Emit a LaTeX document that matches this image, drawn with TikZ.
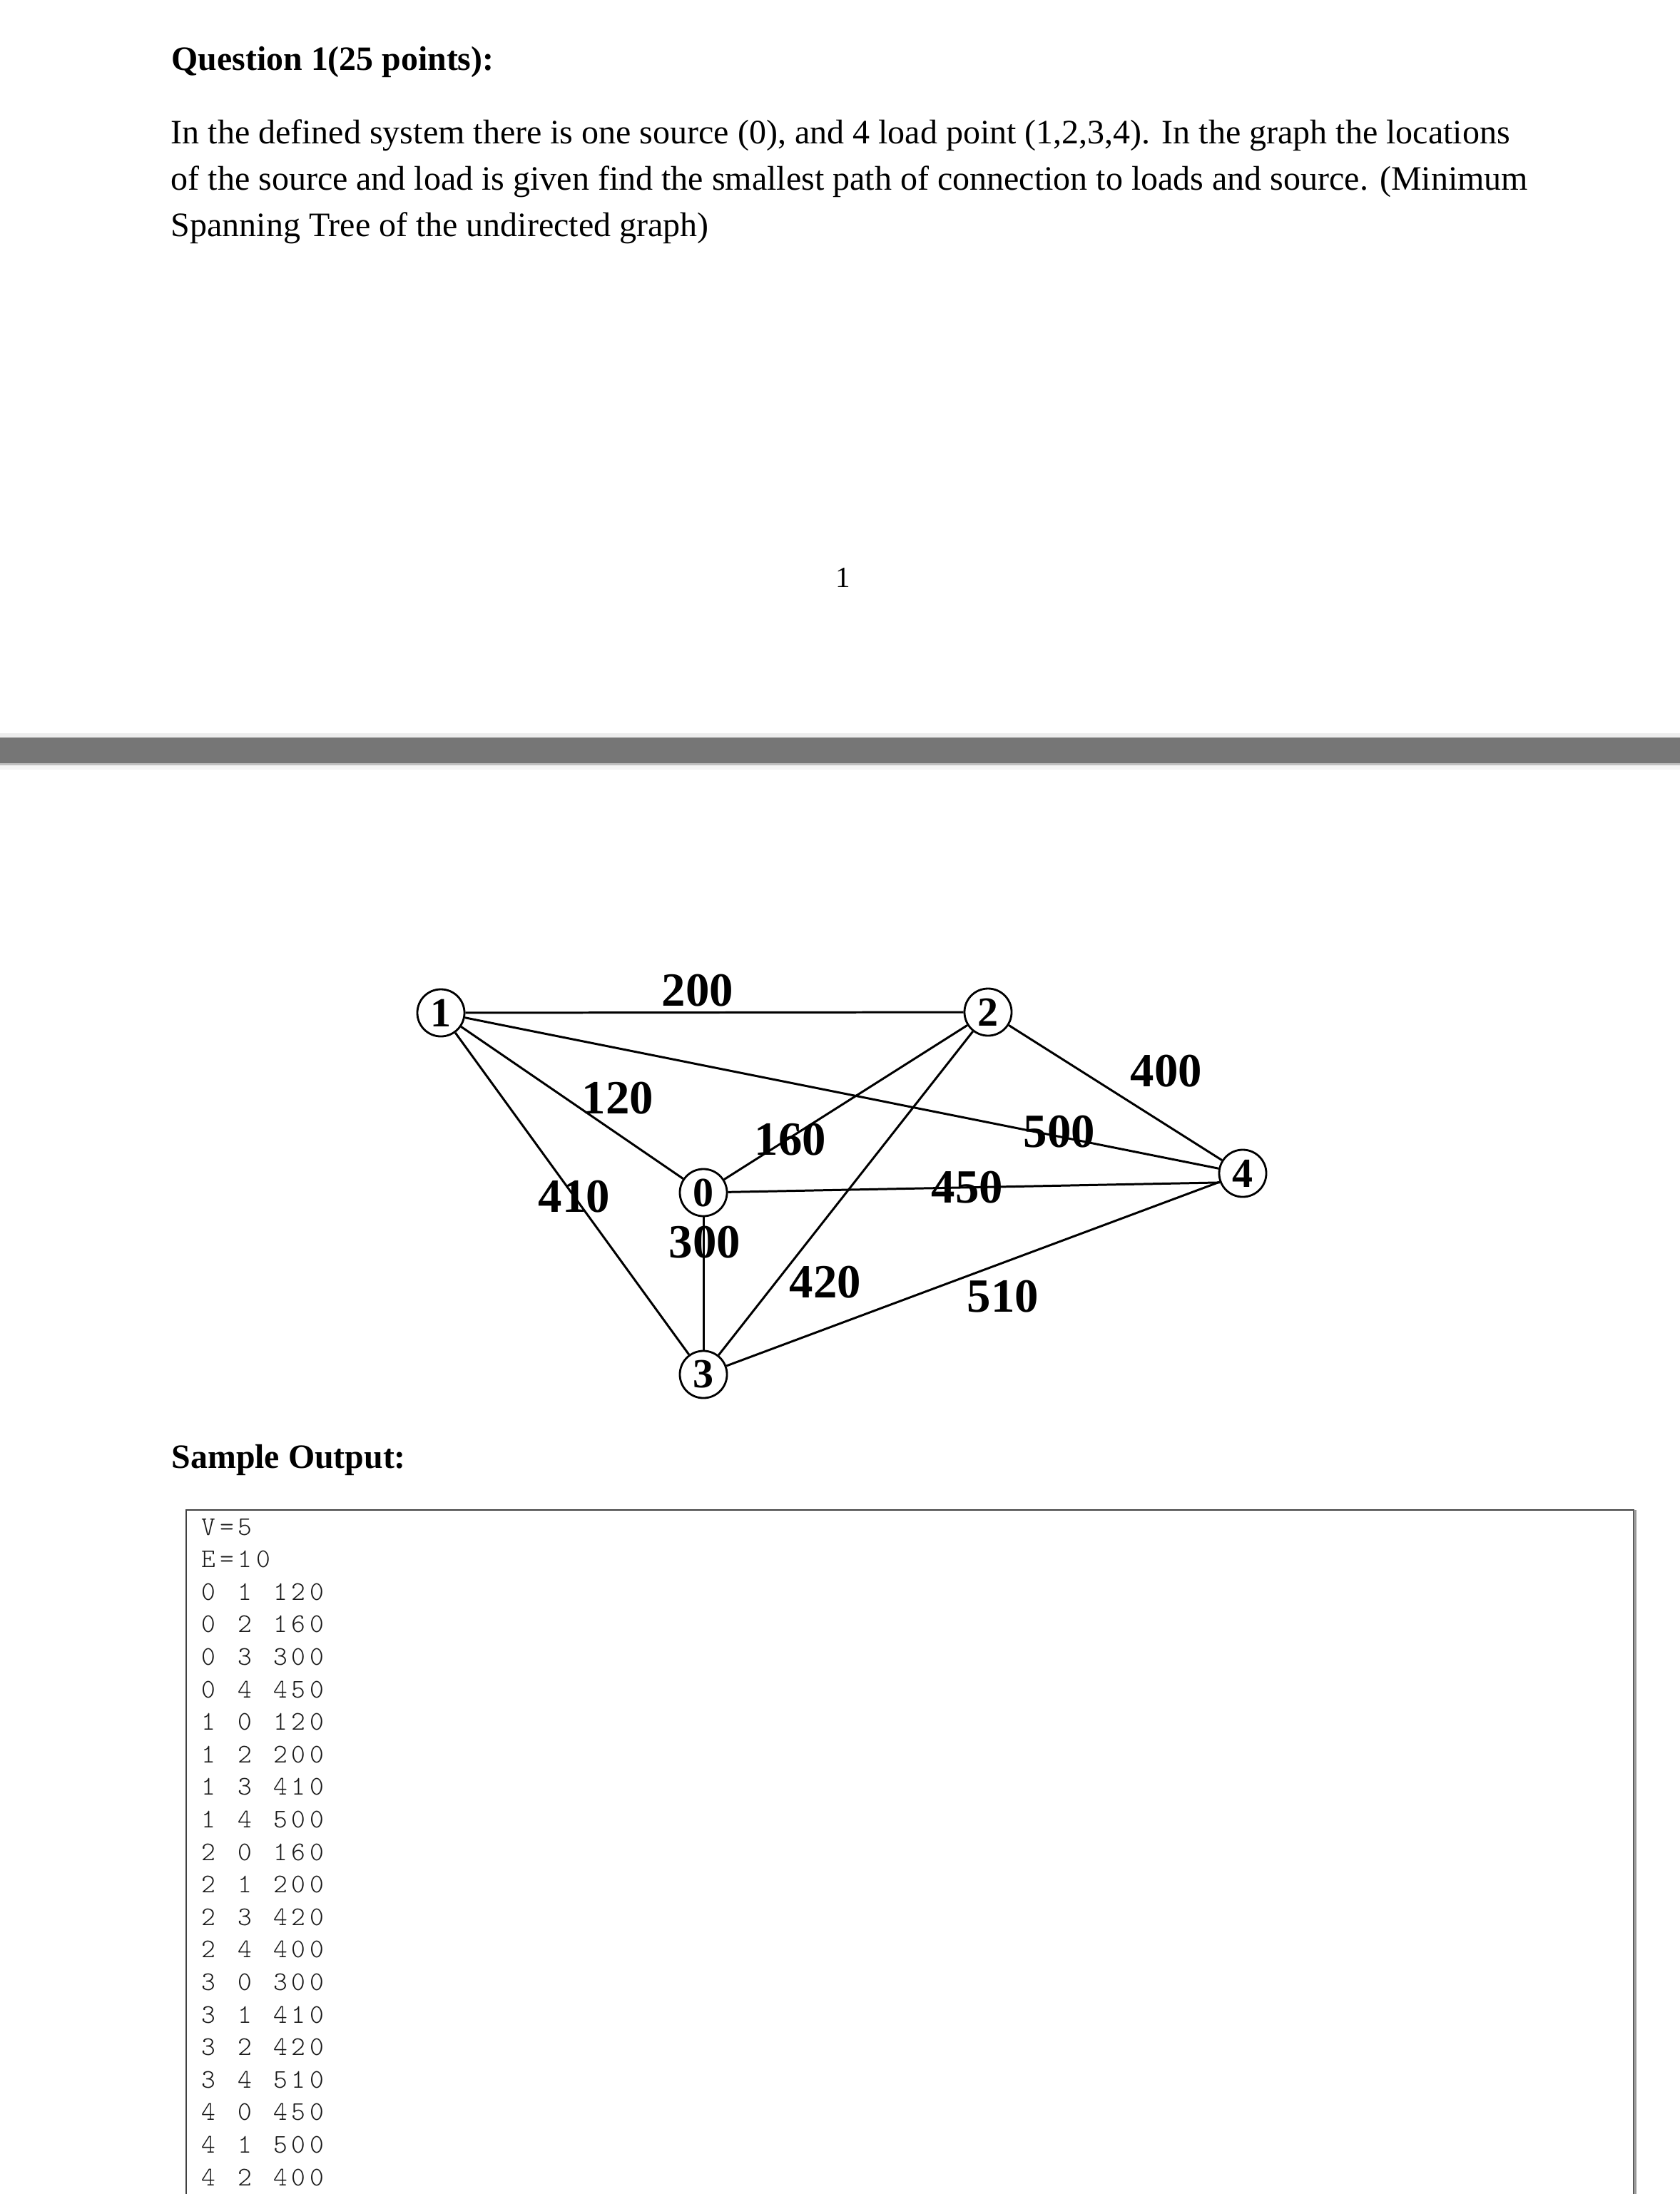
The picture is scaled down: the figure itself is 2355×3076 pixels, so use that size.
\documentclass[tikz,border=0pt]{standalone}
\usepackage{fontspec}
\setmainfont{Liberation Serif}
\newfontfamily\codefont{lmmonolt10-regular.otf}[LetterSpace=15.2,WordSpace=1.2]
\tikzset{
  vtx/.style={circle, draw, line width=0.8pt, minimum size=0.66cm, inner sep=0pt,
    font=\fontsize{16.5}{16.5}\selectfont\bfseries},
  wlab/.style={inner sep=0pt, font=\fontsize{19}{19}\selectfont\bfseries},
  lnk/.style={line width=0.85pt},
  body/.style={anchor=base west, inner sep=0pt, font=\fontsize{13.65}{16}\selectfont},
  head/.style={anchor=base west, inner sep=0pt, font=\fontsize{13.6}{16}\selectfont\bfseries},
  code/.style={anchor=base west, inner sep=0pt, text=black!90,
    font=\codefont\fontsize{10.7}{12}\selectfont},
}
\begin{document}
\begin{tikzpicture}[x=0.01cm, y=-0.01cm]
\clip (0,0) rectangle (2355,3076);
\fill[white] (0,0) rectangle (2355,3076);

% header text
\node[head] (title) at (240,99) {Question 1(25 points):};
\node[body] (p1) at (239,202) {In the defined system there is one source (0), and 4 load point (1,2,3,4). In the graph the locations};
\node[body] (p2) at (239,267) {of the source and load is given find the smallest path of connection to loads and source. (Minimum};
\node[body] (p3) at (239,332) {Spanning Tree of the undirected graph)};

% page number
\node[inner sep=0pt, font=\fontsize{11.7}{12}\selectfont] (pg) at (1182,810) {1};

% page separator bar
\fill[black!7] (0,1028) rectangle (2355,1034);
\fill[color={rgb,255:red,118;green,118;blue,118}] (0,1034) rectangle (2355,1070);
\fill[black!25] (0,1070) rectangle (2355,1073);
\fill[black!4] (0,1073) rectangle (2355,1079);

% graph
\node[vtx] (v1) at (618,1420) {1};
\node[vtx] (v2) at (1385,1419) {2};
\node[vtx] (v0) at (986,1672) {0};
\node[vtx] (v3) at (986,1927) {3};
\node[vtx] (v4) at (1742,1645) {4};

\draw[lnk] (v1) -- (v2);
\draw[lnk] (v1) -- (v4);
\draw[lnk] (v1) -- (v0);
\draw[lnk] (v1) -- (v3);
\draw[lnk] (v2) -- (v0);
\draw[lnk] (v2) -- (v3);
\draw[lnk] (v2) -- (v4);
\draw[lnk] (v0) -- (v4.202);
\draw[lnk] (v0) -- (v3);
\draw[lnk] (v3) -- (v4);

\node[wlab] (w200) at (978,1389) {200};
\node[wlab] (w120) at (866,1540) {120};
\node[wlab] (w160) at (1108,1598) {160};
\node[wlab] (w410) at (805,1678) {410};
\node[wlab] (w300) at (988,1742) {300};
\node[wlab] (w420) at (1157,1798) {420};
\node[wlab] (w450) at (1356,1665) {450};
\node[wlab] (w500) at (1485,1587) {500};
\node[wlab] (w400) at (1635,1502) {400};
\node[wlab] (w510) at (1406,1818) {510};

% sample output
\node[head] (so) at (240,2058) {Sample Output:};
\draw[black!75, line width=0.45pt] (261,3100) -- (261,2117) -- (2290,2117) -- (2290,3100);
\draw[black!40, line width=1.3pt] (2292,2117) -- (2292,3100);
\foreach \t [count=\i from 0] in {V=5, E=10, 0 1 120, 0 2 160, 0 3 300, 0 4 450, 1 0 120, 1 2 200, 1 3 410, 1 4 500, 2 0 160, 2 1 200, 2 3 420, 2 4 400, 3 0 300, 3 1 410, 3 2 420, 3 4 510, 4 0 450, 4 1 500, 4 2 400}
  \node[code] (c\i) at (282,2152+45.6*\i) {\t};
\end{tikzpicture}
\end{document}
